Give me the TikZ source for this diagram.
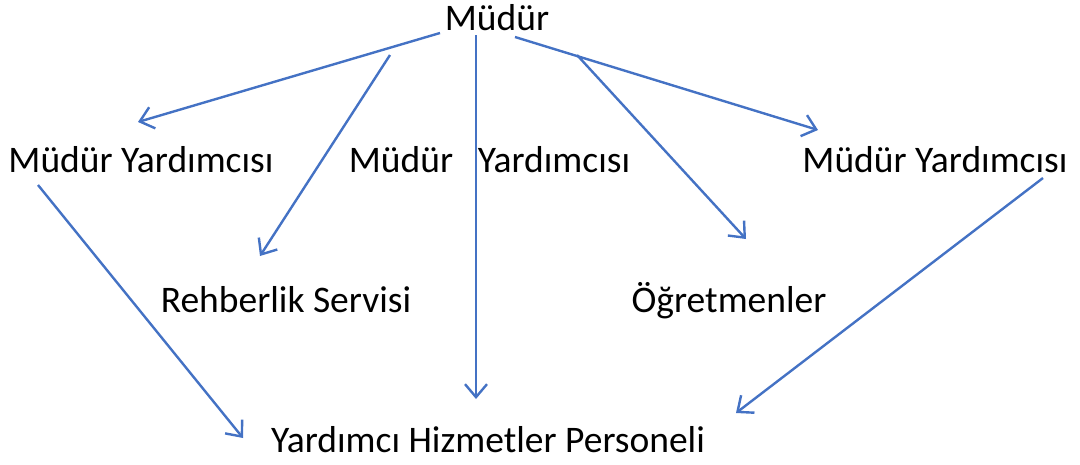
\documentclass[tikz,border=0pt]{standalone}
\usepackage{fontspec}
\setmainfont{Carlito}
\usetikzlibrary{arrows.meta}
\definecolor{linkblue}{HTML}{4472C4}
\tikzset{
  lbl/.style={inner sep=0pt, font=\fontsize{37.5}{42}\selectfont, text=black, anchor=base},
  conn/.style={draw=linkblue, line width=2.4pt, -{Straight Barb[length=13pt,width=22pt,line width=2.4pt]}}
}
\begin{document}
\begin{tikzpicture}[x=1pt,y=-1pt]
\useasboundingbox (0,0) rectangle (1080,464);
% labels
\node[lbl] (top) at (497,30) {Müdür};
\node[lbl] (myl) at (141,172) {Müdür Yardımcısı};
\node[lbl] (mm1) at (401,172) {Müdür};
\node[lbl] (mm2) at (554,172) {Yardımcısı};
\node[lbl] (myr) at (935,172) {Müdür Yardımcısı};
\node[lbl] (reh) at (286,312) {Rehberlik Servisi};
\node[lbl] (ogr) at (729,312) {Öğretmenler};
\node[lbl] (yhp) at (488,452) {Yardımcı Hizmetler Personeli};
% connector end points
\coordinate (s1) at (440,33);  \coordinate (e1) at (138,122);
\coordinate (s2) at (390,55);  \coordinate (e2) at (260,256);
\coordinate (s3) at (476,35);  \coordinate (e3) at (476,399);
\coordinate (s4) at (515,37);  \coordinate (e4) at (818,130);
\coordinate (s5) at (577,55);  \coordinate (e5) at (746,239);
\coordinate (s6) at (38,185);  \coordinate (e6) at (243,438);
\coordinate (s7) at (1043,178); \coordinate (e7) at (736,413);
\draw[conn] (s1) -- (e1);
\draw[conn] (s2) -- (e2);
\draw[conn] (s3) -- (e3);
\draw[conn] (s4) -- (e4);
\draw[conn] (s5) -- (e5);
\draw[conn] (s6) -- (e6);
\draw[conn] (s7) -- (e7);
\end{tikzpicture}
\end{document}
